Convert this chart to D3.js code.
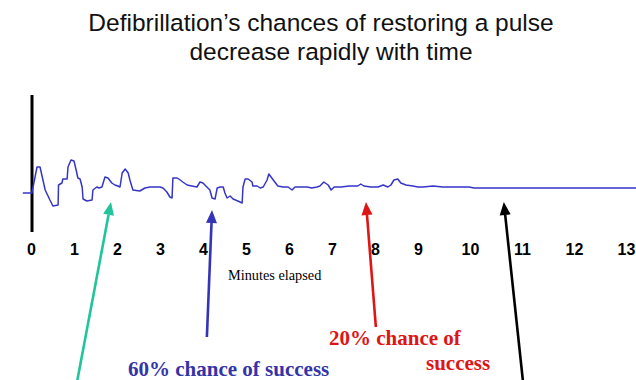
<!DOCTYPE html>
<html><head><meta charset="utf-8">
<script src="https://cdn.jsdelivr.net/npm/d3@7/dist/d3.min.js"></script>
<style>body{margin:0;background:#fff}svg{display:block}</style>
</head><body>
<svg id="c" width="636" height="380"></svg>
<script>
// ECG-like trace: time in minutes, amplitude in arbitrary units
const traceTime = [-0.19,0.02,0.14,0.21,0.33,0.44,0.51,0.63,0.64,0.72,0.74,0.84,0.86,0.93,1.00,1.05,1.09,1.14,1.19,1.21,1.30,1.42,1.44,1.53,1.58,1.65,1.72,1.79,1.88,1.95,2.02,2.07,2.12,2.19,2.26,2.30,2.37,2.53,2.65,2.77,2.93,3.00,3.07,3.16,3.23,3.28,3.30,3.40,3.47,3.53,3.63,3.74,3.86,3.93,4.00,4.09,4.16,4.21,4.28,4.33,4.40,4.47,4.51,4.56,4.63,4.70,4.81,4.91,4.93,4.98,5.05,5.14,5.16,5.26,5.33,5.40,5.49,5.53,5.60,5.67,5.74,5.86,5.98,6.07,6.14,6.26,6.42,6.53,6.65,6.72,6.81,6.91,6.98,7.05,7.21,7.40,7.60,7.67,7.74,7.91,8.07,8.19,8.30,8.37,8.44,8.53,8.60,8.72,8.88,9.00,9.10,9.29,9.48,9.67,9.77,9.87,9.98,10.08,13.2];
const traceAmp  = [-0.5,-0.5,2.1,2.1,-0.2,-1.2,-1.8,-1.7,0.3,0.5,0.9,0.9,2.1,2.8,2.7,1.8,1.0,0.9,0.1,-1.1,-1.3,-1.2,-0.2,0.1,0.0,0.1,1.1,1.0,0.5,0.3,0.2,0.1,1.5,1.9,1.5,0.8,-0.2,-0.3,0.0,0.1,0.1,0.1,0.0,-0.4,-0.9,-1.0,1.0,1.0,0.8,0.6,0.3,0.2,0.1,0.6,0.5,0.1,-0.2,-1.0,-1.1,0.0,0.1,0.1,-0.5,-1.0,-0.8,-1.1,-1.3,-1.5,0.1,0.9,0.9,0.6,0.2,0.2,0.0,0.1,0.8,1.4,1.0,0.6,0.2,0.1,0.1,-0.2,0.1,0.1,0.1,0.0,0.1,0.2,0.6,0.3,-0.2,0.1,0.1,0.2,0.2,0.4,0.2,0.1,0.1,0.3,0.1,0.3,0.8,0.9,0.5,0.3,0.2,0.1,0.1,0.2,0.1,0.1,0.1,0.1,0.1,0.0,0.0];
const tickLabels = [0,1,2,3,4,5,6,7,8,9,10,11,12,13];
// annotation arrows: tail and tip in (minutes, amplitude)
const arrowNames  = ["green","blue","red","black"];
const arrowColors = ["#22c49c","#3434b8","#dd1515","#000000"];
const arrowTailT  = [1.07,4.09,8.02,11.02];
const arrowTailA  = [-19.4,-14.9,-13.9,-19.4];
const arrowTipT   = [1.86,4.21,7.79,10.65];
const arrowTipA   = [-1.4,-2.2,-1.4,-1.4];

const svg = d3.select("#c");
const x = d3.scaleLinear().domain([0,9,13]).range([31,418,626]);
const y = d3.scaleLinear().domain([-2,3]).range([208,158]);
const sans="'Liberation Sans',Arial,sans-serif";
const serif="'Liberation Serif','Times New Roman',serif";

// title
svg.append("text").attr("x",321).attr("y",31).attr("text-anchor","middle")
  .style("font-family",sans).style("font-size","24.5px").attr("fill","#111")
  .text("Defibrillation’s chances of restoring a pulse");
svg.append("text").attr("x",331).attr("y",60).attr("text-anchor","middle")
  .style("font-family",sans).style("font-size","24.5px").attr("fill","#111")
  .text("decrease rapidly with time");

// vertical axis line
svg.append("line").attr("x1",x(0)+1).attr("x2",x(0)+1).attr("y1",95).attr("y2",232)
  .attr("stroke","#000").attr("stroke-width",3);

// trace
const pts = traceTime.map((t,i)=>[t,traceAmp[i]]);
svg.append("path").datum(pts)
  .attr("d", d3.line().x(d=>x(d[0])).y(d=>y(d[1])))
  .attr("fill","none").attr("stroke","#3535c8").attr("stroke-width",1.5).attr("stroke-linejoin","round");

// x axis labels
const ax = svg.append("g").attr("transform","translate(0,240)")
  .call(d3.axisBottom(x).tickValues(tickLabels).tickSize(0).tickFormat(d3.format("d")));
ax.select(".domain").remove();
ax.selectAll("text").attr("fill","#000").attr("dy","0")
  .attr("y",15)
  .style("font-family",sans).style("font-size","16px").style("font-weight","bold");

svg.append("text").attr("x",228).attr("y",280)
  .style("font-family",serif).style("font-size","14.3px").attr("fill","#000")
  .text("Minutes elapsed");

// arrows
arrowNames.forEach((n,i)=>{
  const x1=x(arrowTailT[i]), y1=y(arrowTailA[i]), x2=x(arrowTipT[i]), y2=y(arrowTipA[i]);
  const ang=Math.atan2(y2-y1,x2-x1), L=13, W=5.5;
  const bx=x2-L*Math.cos(ang), by=y2-L*Math.sin(ang);
  svg.append("line").attr("x1",x1).attr("y1",y1).attr("x2",bx).attr("y2",by)
    .attr("stroke",arrowColors[i]).attr("stroke-width",2.6);
  const px=-Math.sin(ang), py=Math.cos(ang);
  svg.append("path").attr("d",`M${x2},${y2}L${bx+W*px},${by+W*py}L${bx-W*px},${by-W*py}Z`)
    .attr("fill",arrowColors[i]);
});

svg.append("text").attr("x",128).attr("y",376).style("font-family",serif).style("font-size","21px")
  .style("font-weight","bold").attr("fill","#3434a8").text("60% chance of success");
svg.append("text").attr("x",329).attr("y",345).style("font-family",serif).style("font-size","21px")
  .style("font-weight","bold").attr("fill","#dd1515").text("20% chance of");
svg.append("text").attr("x",426).attr("y",370).style("font-family",serif).style("font-size","21px")
  .style("font-weight","bold").attr("fill","#dd1515").text("success");
</script>
</body></html>
